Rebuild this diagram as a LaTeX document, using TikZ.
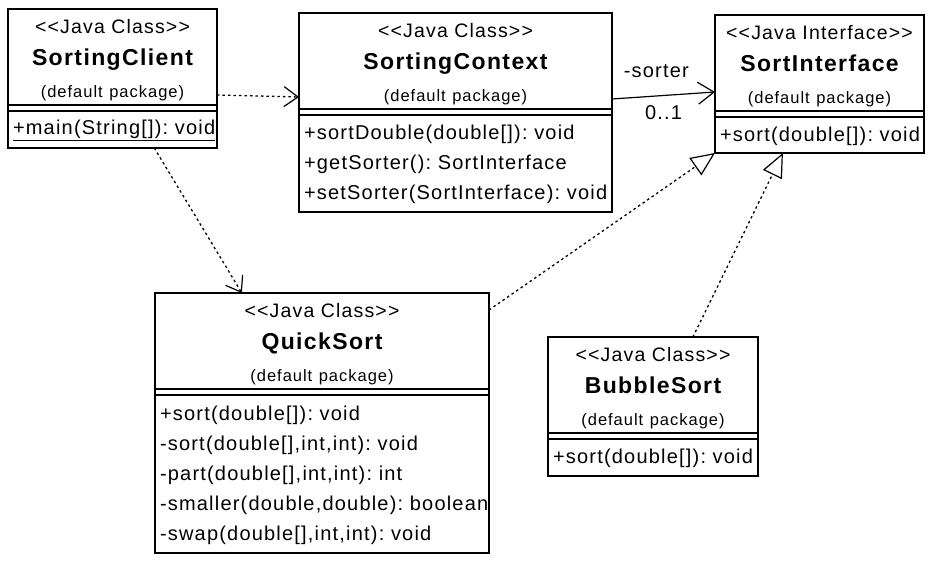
\documentclass[tikz,border=0pt]{standalone}
\usepackage{fontspec}
\setmainfont{Liberation Sans}[LetterSpace=6,Ligatures=TeXOff]
\usetikzlibrary{arrows.meta, positioning, calc}
\newcommand{\cname}[1]{{\fontsize{23}{32}\selectfont\bfseries #1}}
\newcommand{\cpkg}{{\fontsize{16.5}{32}\selectfont (default package)}}
\begin{document}
\begin{tikzpicture}[x=1pt, y=-1pt,
		head/.style={draw,rectangle,line width=1.2pt,outer sep=0pt,inner sep=0pt,align=center,minimum height=96pt,font=\fontsize{19.5}{32}\selectfont},
		attr/.style={draw,rectangle,line width=1.2pt,outer sep=0pt,inner sep=0pt,minimum height=6pt},
		ops/.style={draw,rectangle,line width=1.2pt,outer sep=0pt,inner xsep=5pt,inner ysep=0pt,align=left,font=\fontsize{20}{30}\selectfont},
		dep/.style={line width=1.3pt,dash pattern=on 2.5pt off 3pt,-{Straight Barb[length=14pt,width=20pt,line width=1.2pt]}},
		real/.style={line width=1.3pt,dash pattern=on 2.5pt off 3pt,-{Triangle[open,length=24pt,width=21pt,line width=1.2pt]}},
		assoc/.style={line width=1.2pt,-{Straight Barb[length=16pt,width=22pt]}},
		role/.style={inner sep=0pt,font=\fontsize{20}{24}\selectfont}]
		\useasboundingbox (0,0) rectangle (932,565);
		% classes
		\node (cli) [head,text width=209pt,anchor=north west] at (8,9) {\rule{0pt}{20pt}<<Java Class>>\\\cname{SortingClient}\\\cpkg};
		\node (cliA) [attr,below=0pt of cli,minimum width=209pt] {};
		\node (cliM) [ops,below=0pt of cliA,text width=199pt,minimum height=37pt] {\rule{0pt}{17pt}\underline{+main(String[]):~void}};
		\node (ctx) [head,text width=313pt,anchor=north west] at (299,13) {\rule{0pt}{20pt}<<Java Class>>\\\cname{SortingContext}\\\cpkg};
		\node (ctxA) [attr,below=0pt of ctx,minimum width=313pt] {};
		\node (ctxM) [ops,below=0pt of ctxA,text width=303pt,minimum height=97pt] {\rule{0pt}{17pt}+sortDouble(double[]):~void\\+getSorter():~SortInterface\\+setSorter(SortInterface):~void};
		\node (ifc) [head,text width=209pt,anchor=north west] at (715,15) {\rule{0pt}{20pt}<<Java Interface>>\\\cname{SortInterface}\\\cpkg};
		\node (ifcA) [attr,below=0pt of ifc,minimum width=209pt] {};
		\node (ifcM) [ops,below=0pt of ifcA,text width=199pt,minimum height=36pt] {\rule{0pt}{17pt}+sort(double[]):~void};
		\node (qs) [head,text width=334pt,anchor=north west] at (155,293) {\rule{0pt}{20pt}<<Java Class>>\\\cname{QuickSort}\\\cpkg};
		\node (qsA) [attr,below=0pt of qs,minimum width=334pt] {};
		\node (qsM) [ops,below=0pt of qsA,text width=324pt,minimum height=158pt] {\rule{0pt}{17pt}+sort(double[]):~void\\-sort(double[],int,int):~void\\-part(double[],int,int):~int\\-smaller(double,double):~boolean\\-swap(double[],int,int):~void};
		\node (bs) [head,text width=210pt,anchor=north west] at (548,337) {\rule{0pt}{20pt}<<Java Class>>\\\cname{BubbleSort}\\\cpkg};
		\node (bsA) [attr,below=0pt of bs,minimum width=210pt] {};
		\node (bsM) [ops,below=0pt of bsA,text width=200pt,minimum height=37pt] {\rule{0pt}{17pt}+sort(double[]):~void};
		% relations
		\draw [dep] ([yshift=10pt]cli.south east) -- ([yshift=12pt]ctx.south west);
		\draw [dep] ($(cliM.south west)!0.7!(cliM.south east)$) -- ($(qs.north west)!0.26!(qs.north east)$);
		\draw [assoc] ([yshift=10pt]ctx.south east) -- node (rol) [role,pos=0.43,above=18pt] {-sorter} node (mlt) [role,pos=0.5,below=9pt] {0..1} ([yshift=19pt]ifc.south west);
		\draw [real] ([yshift=-17pt]qs.north east) -- (ifcM.south west);
		\draw [real] ($(bs.north west)!0.69!(bs.north east)$) -- ($(ifcM.south west)!0.325!(ifcM.south east)$);
	\end{tikzpicture}
\end{document}
